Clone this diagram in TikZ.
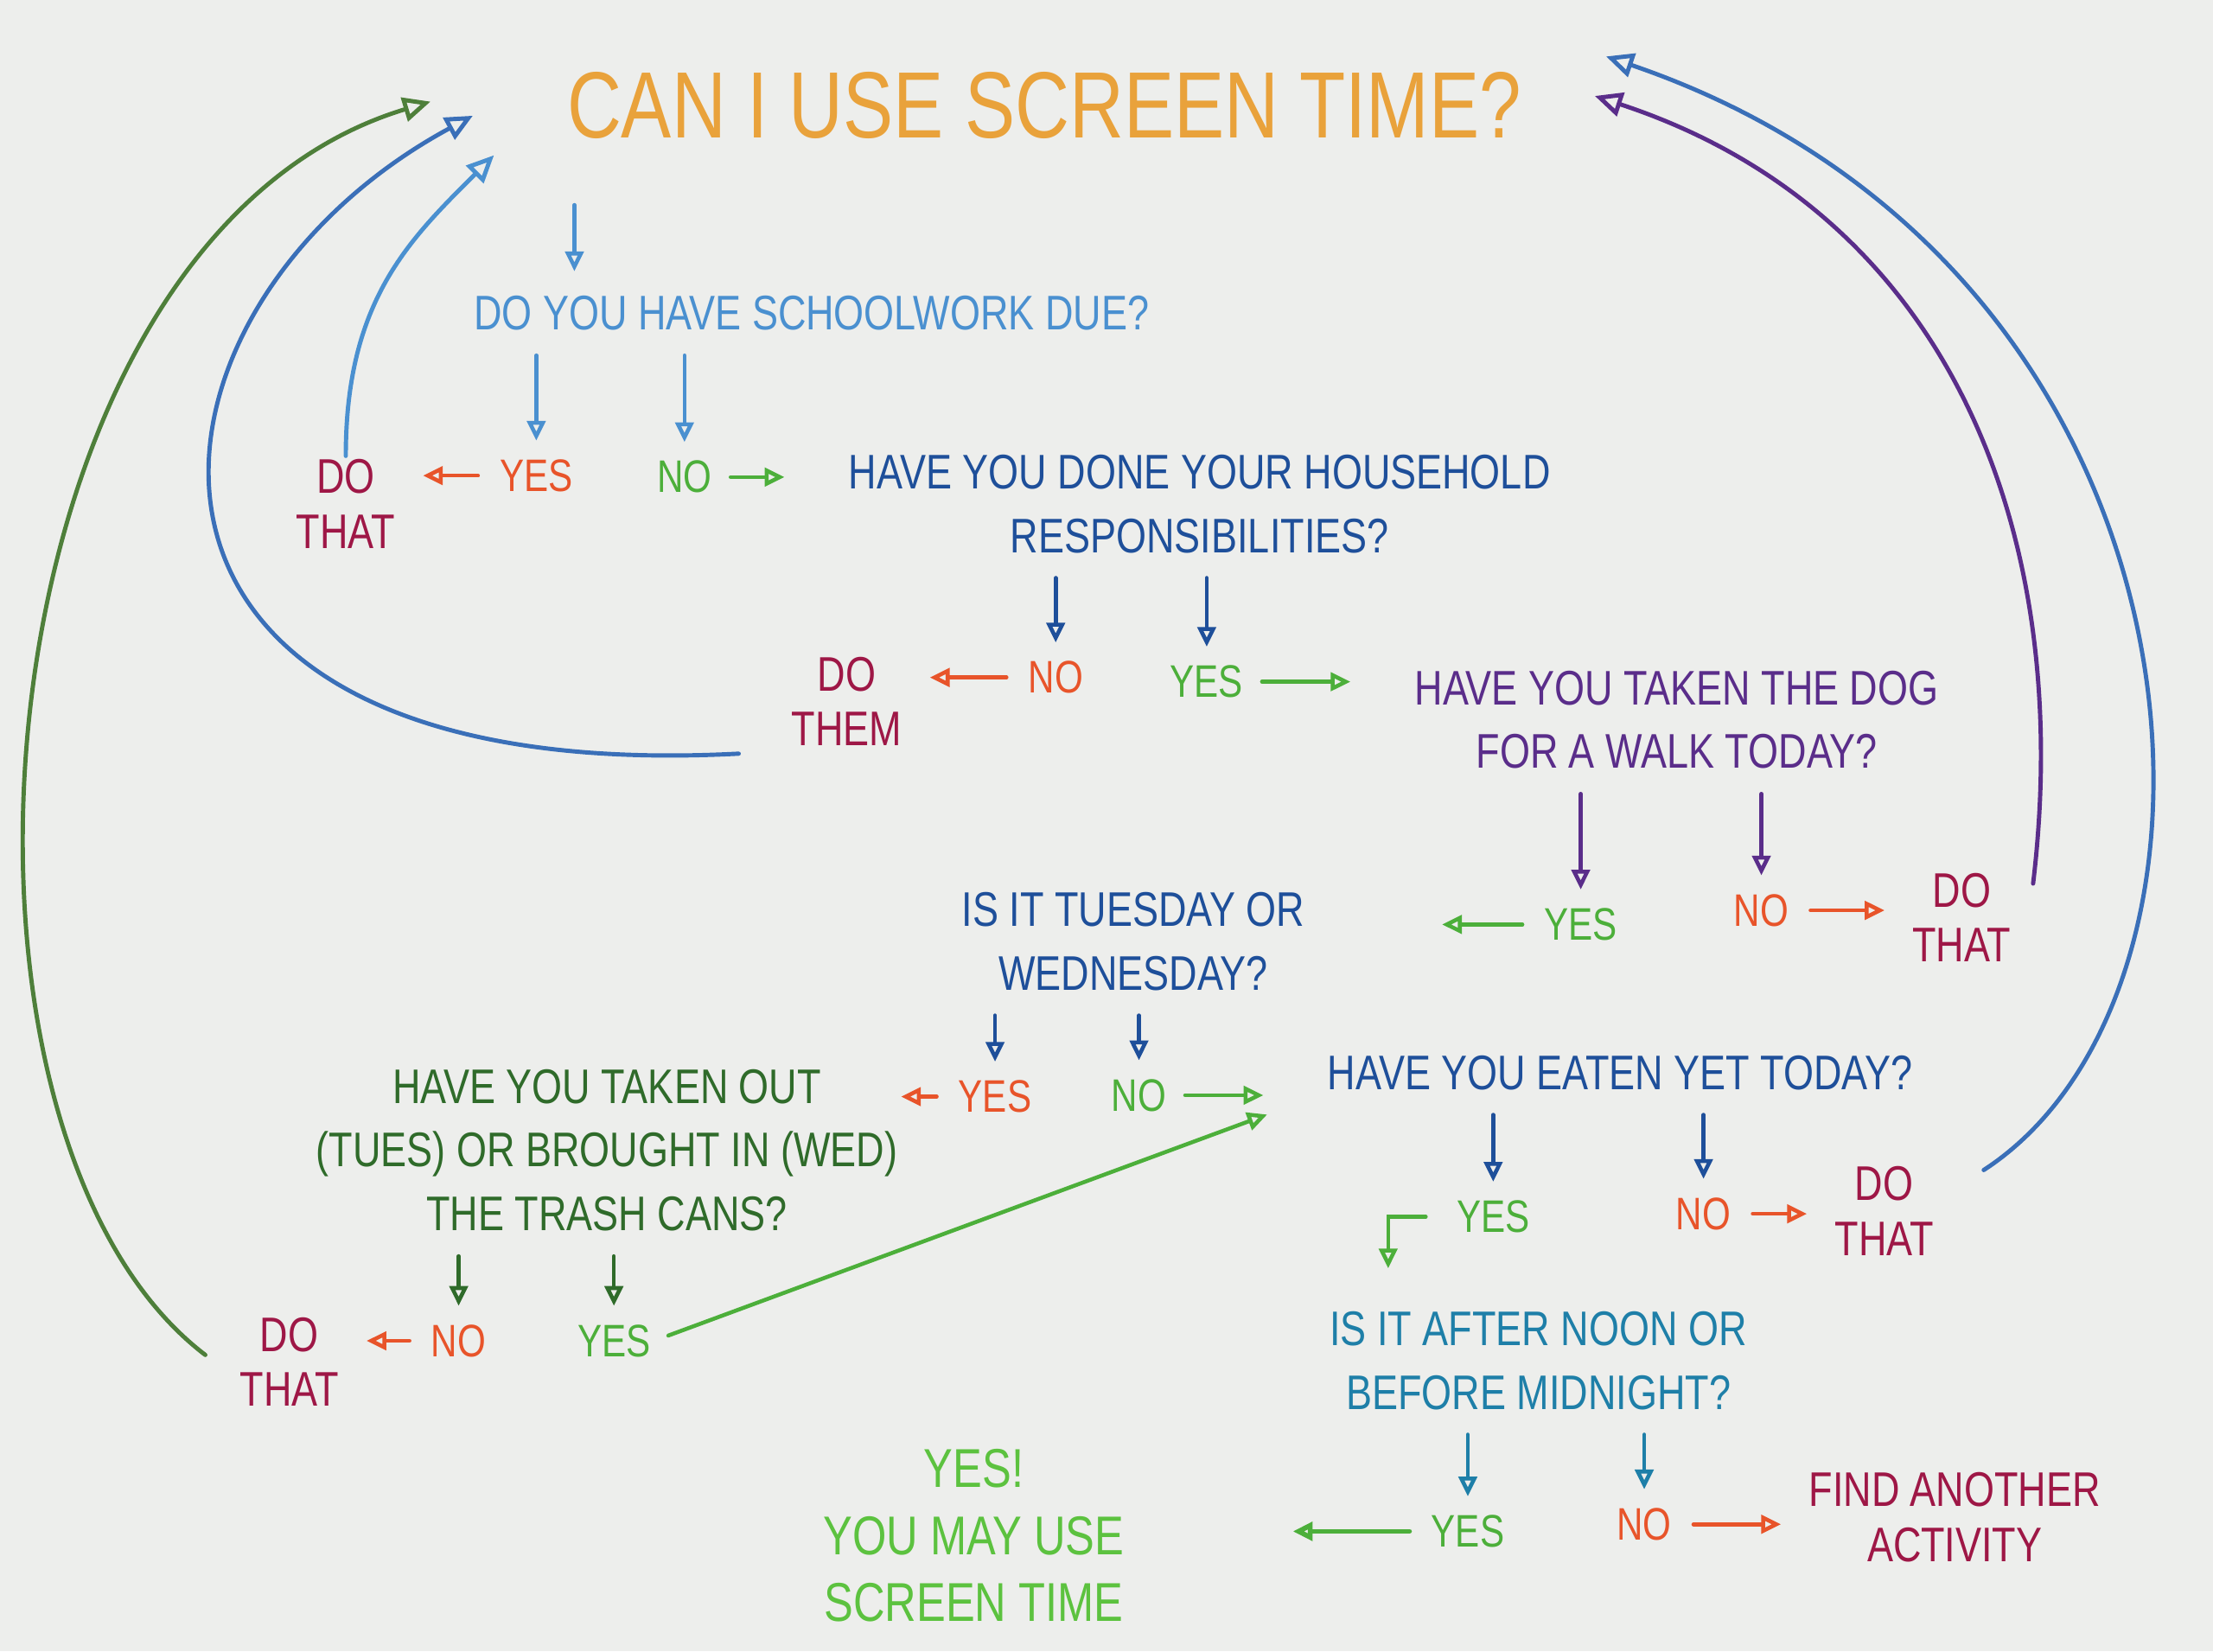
\documentclass[tikz,border=0pt]{standalone}
\usepackage{fontspec}
\setmainfont[FakeStretch=0.8]{Liberation Sans}
\usetikzlibrary{arrows.meta,calc,positioning}
\definecolor{paper}{HTML}{EDEEEC}
\definecolor{torange}{HTML}{E9A23B}
\definecolor{lblue}{HTML}{4A90D0}
\definecolor{dblue}{HTML}{1E4F9A}
\definecolor{lpurple}{HTML}{5A2D8A}
\definecolor{dred}{HTML}{9E1746}
\definecolor{rorange}{HTML}{E8542A}
\definecolor{mgreen}{HTML}{4CAF3A}
\definecolor{dgreen}{HTML}{2F6B2A}
\definecolor{teal}{HTML}{1E7FA8}
\definecolor{lgreen}{HTML}{5CC23F}
\definecolor{lpblue}{HTML}{3A6FB8}
\definecolor{lpgreen}{HTML}{4E7F3A}
\tikzset{
  q/.style={align=center, font=\fontsize{16}{21}\selectfont, inner sep=1pt},
  ans/.style={font=\fontsize{15}{18}\selectfont, inner sep=1pt},
  dothat/.style={align=center, font=\fontsize{16}{18}\selectfont, text=dred, inner sep=1pt},
  arr/.style={-{Triangle[open,length=6.5pt,width=6pt]}, line width=1.3pt, line cap=round},
  down/.style={arr, shorten <=7pt, shorten >=5pt},
  side/.style={arr, shorten <=6pt, shorten >=8pt},
  toq/.style={arr, shorten <=5pt, shorten >=20pt},
  back/.style={-{Triangle[open,length=9pt,width=8pt]}, line width=1.4pt, line cap=round}
}
\begin{document}
\begin{tikzpicture}[x=0.16327mm,y=-0.16327mm]
\fill[paper] (0,0) rectangle (1568,1170);
\useasboundingbox (0,0) rectangle (1568,1170);

\node (title) at (740,75) [text=torange, font=\fontsize{31}{36}\selectfont] {CAN I USE SCREEN TIME?};

% schoolwork
\node (q1) at (575,222) [q, text=lblue] {DO YOU HAVE SCHOOLWORK DUE?};
\node (ya) at (380,337) [ans, text=rorange] {YES};
\node (na) at (485,338) [ans, text=mgreen] {NO};
\node (dt1) at (245,357) [dothat] {DO\\THAT};

% household
\node (q2) at (850,357) [q, text=dblue] {HAVE YOU DONE YOUR HOUSEHOLD\\RESPONSIBILITIES?};
\node (n2) at (748,480) [ans, text=rorange] {NO};
\node (y2) at (855,483) [ans, text=mgreen] {YES};
\node (dt2) at (600,497) [dothat] {DO\\THEM};

% dog
\node (q3) at (1188,510) [q, text=lpurple] {HAVE YOU TAKEN THE DOG\\FOR A WALK TODAY?};
\node (y3) at (1120,655) [ans, text=mgreen] {YES};
\node (n3) at (1248,645) [ans, text=rorange] {NO};
\node (dt3) at (1390,650) [dothat] {DO\\THAT};

% trash day
\node (q4) at (803,667) [q, text=dblue] {IS IT TUESDAY OR\\WEDNESDAY?};
\node (y4) at (705,777) [ans, text=rorange] {YES};
\node (n4) at (807,776) [ans, text=mgreen] {NO};

\node (q5) at (430,815) [q, text=dgreen] {HAVE YOU TAKEN OUT\\(TUES) OR BROUGHT IN (WED)\\THE TRASH CANS?};
\node (n5) at (325,950) [ans, text=rorange] {NO};
\node (y5) at (435,950) [ans, text=mgreen] {YES};
\node (dt5) at (205,965) [dothat] {DO\\THAT};

% eaten
\node (q6) at (1148,760) [q, text=dblue] {HAVE YOU EATEN YET TODAY?};
\node (y6) at (1058,862) [ans, text=mgreen] {YES};
\node (n6) at (1207,860) [ans, text=rorange] {NO};
\node (dt6) at (1335,858) [dothat] {DO\\THAT};

% time of day
\node (q7) at (1090,964) [q, text=teal] {IS IT AFTER NOON OR\\BEFORE MIDNIGHT?};
\node (y7) at (1040,1085) [ans, text=mgreen] {YES};
\node (n7) at (1165,1080) [ans, text=rorange] {NO};
\node (fa) at (1385,1075) [dothat] {FIND ANOTHER\\ACTIVITY};
\node (win) at (690,1088) [align=center, text=lgreen, font=\fontsize{18}{22}\selectfont] {YES!\\YOU MAY USE\\SCREEN TIME};

\coordinate (ret1) at (350,110);
\coordinate (ret2) at (335,82);
\coordinate (ret3) at (305,72);
\coordinate (ret4) at (1130,68);
\coordinate (ret5) at (1138,40);

% down arrows
\draw[arr, lblue] ($(q1.north)+(-168,-62)$) -- ($(q1.north)+(-168,-15)$);
\draw[down, lblue] (q1.south -| ya) -- (ya.north);
\draw[down, lblue] (q1.south -| na) -- (na.north);
\draw[down, dblue] (q2.south -| n2) -- (n2.north);
\draw[down, dblue] (q2.south -| y2) -- (y2.north);
\draw[down, lpurple] (q3.south -| y3) -- (y3.north);
\draw[down, lpurple] (q3.south -| n3) -- (n3.north);
\draw[down, dblue] (q4.south -| y4) -- (y4.north);
\draw[down, dblue] (q4.south -| n4) -- (n4.north);
\draw[down, dgreen] (q5.south -| n5) -- (n5.north);
\draw[down, dgreen] (q5.south -| y5) -- (y5.north);
\draw[down, dblue] (q6.south -| y6) -- (y6.north);
\draw[down, dblue] (q6.south -| n6) -- (n6.north);
\draw[down, teal] (q7.south -| y7) -- (y7.north);
\draw[down, teal] (q7.south -| n7) -- (n7.north);

% sideways arrows
\draw[side, rorange] (ya.west) -- (ya.west -| dt1.east);
\draw[toq, mgreen] (na.east) -- (na.east -| q2.west);
\draw[side, rorange] (n2.west) -- (n2.west -| dt2.east);
\draw[toq, mgreen] (y2.east) -- (y2.east -| q3.west);
\draw[arr, mgreen, shorten <=6pt, shorten >=44pt] (y3.west) -- (y3.west -| q4.east);
\draw[side, rorange] (n3.east) -- (n3.east -| dt3.west);
\draw[side, rorange, shorten >=0pt] (y4.west) -- (y4.west -| q5.north east);
\draw[toq, mgreen] (n4.east) -- (n4.east -| q6.west);
\draw[toq, mgreen] (y5.east) -- (q6.south west);
\draw[side, rorange] (n5.west) -- (n5.west -| dt5.east);
\draw[arr, mgreen, shorten <=9pt, shorten >=13pt] (y6.west) -| ($(y6.west |- q7.north)+(-46,0)$);
\draw[side, rorange] (n6.east) -- (n6.east -| dt6.west);
\draw[arr, mgreen, line width=1.6pt, shorten <=6pt, shorten >=52pt] (y7.west) -- (y7.west -| win.east);
\draw[side, rorange] (n7.east) -- (n7.east -| fa.west);

% back to the start
\draw[back, lblue] (dt1.north) .. controls +(0,-110) and +(-60,60) .. (ret1);
\draw[back, lpblue] ($(dt2.south west)+(-35,3)$) .. controls +(-480,25) and +(-255,138) .. (ret2);
\draw[back, lpgreen] ($(dt5.west)+(-22,-5)$) .. controls +(-210,-160) and +(-325,98) .. (ret3);
\draw[back, lpurple] ($(dt3.north east)+(13,10)$) .. controls +(30,-250) and +(250,82) .. (ret4);
\draw[back, lpblue] ($(dt6.north east)+(33,5)$) .. controls +(200,-130) and +(440,150) .. (ret5);
\end{tikzpicture}
\end{document}
